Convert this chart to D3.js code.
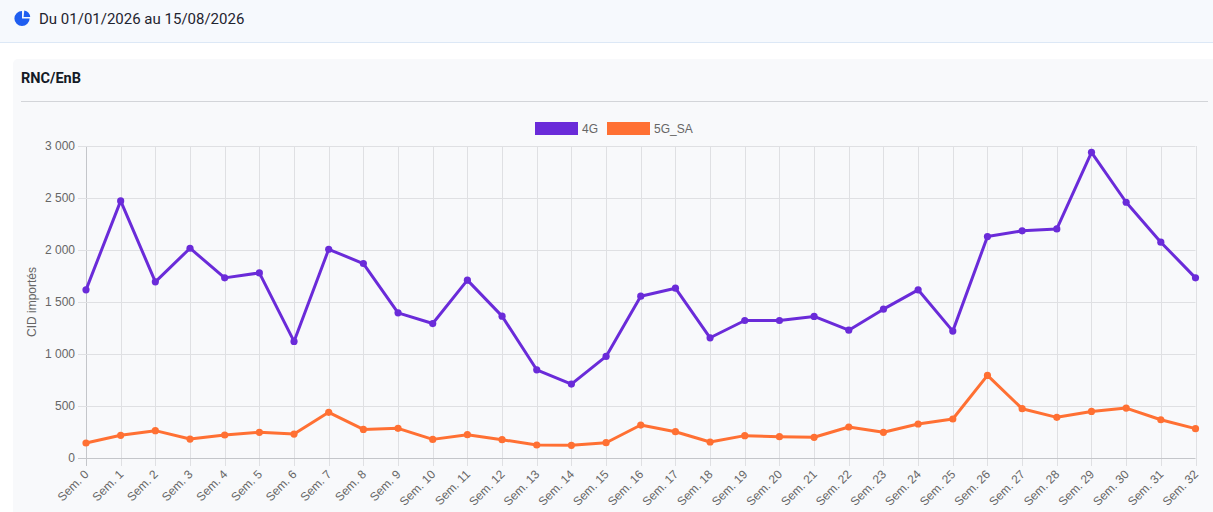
<!DOCTYPE html>
<html>
<head>
<meta charset="utf-8">
<script src="https://cdn.jsdelivr.net/npm/d3@7"></script>
<style>
  html, body { margin: 0; padding: 0; background: #ffffff; }
  svg { display: block; }
</style>
</head>
<body>
<div id="chart"></div>
<script>
// Data

const weeks = d3.range(0, 33).map(i => "Sem. " + i);

const series4G = [1617, 2472, 1694, 2017, 1732, 1780, 1121, 2007, 1870, 1396, 1293,
  1710, 1364, 848, 711, 977, 1556, 1633, 1156, 1322, 1322, 1361,
  1229, 1431, 1617, 1220, 2129, 2184, 2203, 2939, 2459, 2075, 1732];

const series5G = [144, 218, 263, 182, 221, 247, 230, 439, 275, 285, 179,
  224, 176, 125, 122, 147, 317, 253, 154, 215, 205, 199,
  298, 247, 327, 375, 794, 474, 391, 448, 480, 368, 282];

const seriesNames = ["4G", "5G_SA"];
const seriesColors = ["#6a2bd9", "#ff7033"];
const yTicks = [0, 500, 1000, 1500, 2000, 2500, 3000];

const W = 1213, H = 512;
const plot = { left: 86, right: 1195.5, top: 146, bottom: 458 };

const svg = d3.select("#chart")
  .append("svg")
    .attr("width", W)
    .attr("height", H);

// Header band

svg.append("rect")
  .attr("x", 0).attr("y", 0)
  .attr("width", W).attr("height", 42)
  .attr("fill", "#f6f9fd");

svg.append("line")
  .attr("x1", 0).attr("x2", W)
  .attr("y1", 42.5).attr("y2", 42.5)
  .attr("stroke", "#dce8f6");

// pie icon
const icon = svg.append("g")
  .attr("transform", "translate(22,18.5)")
  .attr("fill", "#1f5ef0");

icon.append("path")
  .attr("d", d3.arc()({ innerRadius: 0, outerRadius: 7.6, startAngle: Math.PI / 2, endAngle: 2 * Math.PI }));

icon.append("path")
  .attr("transform", "translate(1.6,-1.4)")
  .attr("d", d3.arc()({ innerRadius: 0, outerRadius: 6.6, startAngle: 0.1, endAngle: Math.PI / 2 }));

svg.append("text")
  .attr("x", 39).attr("y", 23.5)
  .attr("font-family", "Roboto, sans-serif")
  .attr("font-size", 15)
  .attr("fill", "#1f2430")
  .text("Du 01/01/2026 au 15/08/2026");

// Card

svg.append("rect")
  .attr("x", 13).attr("y", 59)
  .attr("width", W - 13 + 6).attr("height", H - 59 + 6)
  .attr("rx", 5)
  .attr("fill", "#f8f9fb");

svg.append("text")
  .attr("x", 21).attr("y", 83)
  .attr("font-family", "Roboto, sans-serif")
  .attr("font-weight", "bold")
  .attr("font-size", 14.5)
  .attr("fill", "#141a26")
  .text("RNC/EnB");

svg.append("line")
  .attr("x1", 21).attr("x2", 1208)
  .attr("y1", 101.5).attr("y2", 101.5)
  .attr("stroke", "#d3d5d9");

// Scales

const x = d3.scalePoint()
  .domain(weeks)
  .range([plot.left, plot.right]);

const y = d3.scaleLinear()
  .domain([0, 3000])
  .range([plot.bottom, plot.top]);

const fr = d3.formatLocale({ decimal: ",", thousands: " ", grouping: [3], currency: ["", " €"] });
const fmt = fr.format(",d");

const font = "'Liberation Sans', Arial, Helvetica, sans-serif";

// gridlines
svg.append("g")
  .selectAll("line")
  .data(weeks)
  .join("line")
    .attr("x1", d => Math.round(x(d)) + 0.5)
    .attr("x2", d => Math.round(x(d)) + 0.5)
    .attr("y1", plot.top)
    .attr("y2", plot.bottom + 8)
    .attr("stroke", (d, i) => i === 0 ? "#c4c6ca" : "#dfe0e3")
    .attr("stroke-width", 1);

svg.append("g")
  .selectAll("line")
  .data(yTicks)
  .join("line")
    .attr("x1", plot.left - 8)
    .attr("x2", plot.right)
    .attr("y1", d => Math.round(y(d)) + 0.5)
    .attr("y2", d => Math.round(y(d)) + 0.5)
    .attr("stroke", d => d === 0 ? "#c4c6ca" : "#dfe0e3")
    .attr("stroke-width", 1);

// y axis
const yAxis = svg.append("g")
  .attr("transform", `translate(${plot.left},0)`)
  .call(d3.axisLeft(y).tickValues(yTicks).tickFormat(fmt).tickSize(0).tickPadding(11));

yAxis.select(".domain").remove();
yAxis.selectAll("text")
  .attr("font-family", font)
  .attr("font-size", 12)
  .attr("fill", "#666666");

svg.append("text")
  .attr("transform", `translate(36,${(plot.top + plot.bottom) / 2}) rotate(-90)`)
  .attr("text-anchor", "middle")
  .attr("font-family", font)
  .attr("font-size", 12)
  .attr("fill", "#666666")
  .text("CID importés");

// x axis
const xAxis = svg.append("g")
  .attr("transform", `translate(0,${plot.bottom})`)
  .call(d3.axisBottom(x).tickSize(0).tickPadding(0));

xAxis.select(".domain").remove();
xAxis.selectAll("text")
  .attr("font-family", font)
  .attr("font-size", 12)
  .attr("fill", "#666666")
  .attr("text-anchor", "end")
  .attr("dy", null)
  .attr("y", 0)
  .attr("transform", "translate(3,17) rotate(-45)");

// Lines and points

const line = d3.line()
  .x((d, i) => x(weeks[i]))
  .y(d => y(d));

[series4G, series5G].forEach((values, k) => {
  const g = svg.append("g");
  g.append("path")
    .datum(values)
    .attr("fill", "none")
    .attr("stroke", seriesColors[k])
    .attr("stroke-width", 3)
    .attr("stroke-linejoin", "round")
    .attr("d", line);

  g.selectAll("circle")
    .data(values)
    .join("circle")
      .attr("cx", (d, i) => x(weeks[i]))
      .attr("cy", d => y(d))
      .attr("r", 3.6)
      .attr("fill", seriesColors[k]);
});

// Legend

const legendX = [535, 607];
const legend = svg.append("g");
seriesNames.forEach((name, k) => {
  legend.append("rect")
    .attr("x", legendX[k]).attr("y", 122)
    .attr("width", 43).attr("height", 13)
    .attr("fill", seriesColors[k]);
  legend.append("text")
    .attr("x", legendX[k] + 47).attr("y", 133)
    .attr("font-family", font)
    .attr("font-size", 12)
    .attr("fill", "#666666")
    .text(name);
});
</script>
</body>
</html>
